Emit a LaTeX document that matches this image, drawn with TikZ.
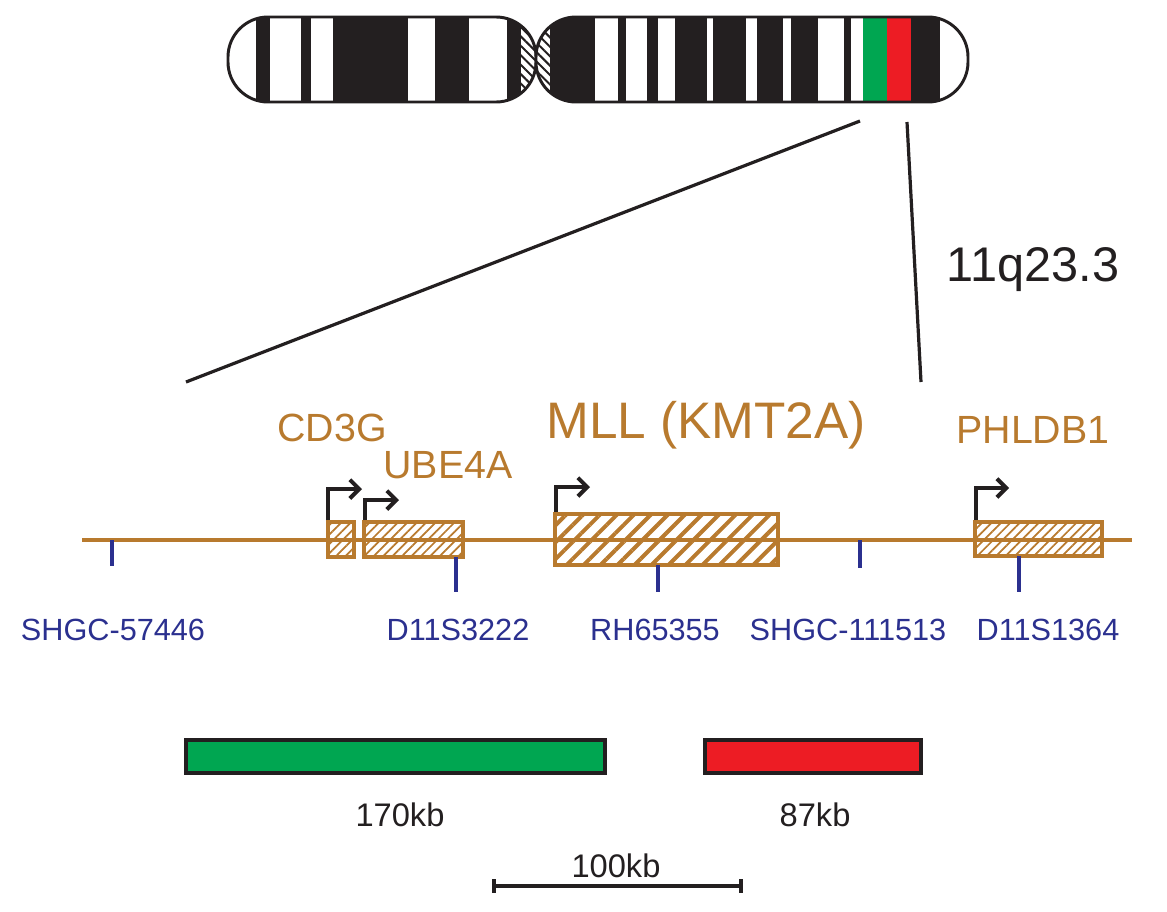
\documentclass[tikz,border=0pt]{standalone}
\usepackage{fontspec}
\setmainfont{Liberation Sans}
\usetikzlibrary{patterns.meta,arrows.meta}
\definecolor{gene}{RGB}{184,122,46}
\definecolor{mark}{RGB}{43,48,143}
\definecolor{band}{RGB}{35,31,32}
\definecolor{grn}{RGB}{0,166,81}
\definecolor{rd}{RGB}{237,28,36}
\tikzset{
  gene box/.style={draw=gene,line width=2.5pt,fill=white,pattern={Lines[angle=45,distance=5pt,line width=1.3pt]},pattern color=gene},
  big box/.style={gene box,pattern={Lines[angle=45,distance=9pt,line width=3pt]}},
  tss/.style={draw=band,line width=3pt,-{Straight Barb[length=7pt,width=14pt]}},
  marker/.style={draw=mark,line width=2.4pt},
  mark label/.style={text=mark,font=\fontsize{23}{23}\selectfont},
  gene label/.style={text=gene,font=\fontsize{29.5}{29.5}\selectfont},
  kb label/.style={text=band,font=\fontsize{24.5}{24.5}\selectfont}
}
\begin{document}
\begin{tikzpicture}[x=0.75pt,y=-0.75pt]
\useasboundingbox (0,0) rectangle (1167,911);

% chromosome
\begin{scope}
  \clip[rounded corners=30] (228,17) rectangle (536,102);
  \fill[white] (228,17) rectangle (536,102);
  \foreach \a/\b in {256/270,301/311,333/408,435/469,507/536}
    \fill[band] (\a,17) rectangle (\b,102);
  \fill[white] (521,17) rectangle (536,102);
  \path[pattern={Lines[angle=-45,distance=5pt,line width=1.5pt]},pattern color=band] (521,17) rectangle (536,102);
\end{scope}
\draw[band,line width=2.2pt,rounded corners=30] (228,17) rectangle (536,102);
\begin{scope}
  \clip[rounded corners=30] (536,17) rectangle (968,102);
  \fill[band] (536,17) rectangle (968,102);
  \foreach \a/\b in {595/618,626/647,658/675,707/713,746/757,783/791,818/844,851/863,940/968}
    \fill[white] (\a,17) rectangle (\b,102);
  \fill[white] (536,17) rectangle (550,102);
  \path[pattern={Lines[angle=-45,distance=5pt,line width=1.5pt]},pattern color=band] (536,17) rectangle (550,102);
  \fill[grn] (863,17) rectangle (887,102);
  \fill[rd] (887,17) rectangle (911,102);
\end{scope}
\draw[band,line width=2.2pt,rounded corners=30] (536,17) rectangle (968,102);

% zoom lines
\coordinate (zl1) at (860,121);
\coordinate (zl2) at (186,382);
\coordinate (zr1) at (907,122);
\coordinate (zr2) at (921,382);
\draw[band,line width=2.4pt] (zl1) -- (zl2);
\draw[band,line width=2.4pt] (zr1) -- (zr2);
\node[text=band,font=\fontsize{36.5}{36.5}\selectfont] (band) at (1033,270) {11q23.3};

% genes
\coordinate (gs) at (82,540);
\coordinate (ge) at (1132,540);
\draw[gene,line width=2.5pt] (gs) -- (ge);
\path[gene box] (328,522) rectangle (354,557);
\path[gene box] (364,522) rectangle (463,557);
\path[big box] (555,514) rectangle (778,565);
\path[gene box] (975,522) rectangle (1102,556);

\draw[tss] (328,520) |- (362,489);
\draw[tss] (365,520) |- (399,500);
\draw[tss] (556,512) |- (590,487);
\draw[tss] (976,520) |- (1009,488);

\node[gene label] (cd3g) at (332,428) {CD3G};
\node[gene label] (ube4a) at (448,465) {UBE4A};
\node[gene label,font=\fontsize{38.5}{38.5}\selectfont] (mll) at (706,425) {MLL (KMT2A)};
\node[gene label] (phldb1) at (1033,430) {PHLDB1};

% markers
\foreach \x/\ya/\yb/\lx/\txt in {112/540/566/113/SHGC-57446,456/557/592/458/D11S3222,658/565/592/655/RH65355,860/540/568/848/SHGC-111513,1019/556/592/1048/D11S1364}
{
  \draw[marker] (\x,\ya) -- (\x,\yb);
  \node[mark label] at (\lx,630) {\txt};
}

% deleted regions
\draw[band,line width=2.5pt,fill=grn] (186,740) rectangle (605,773);
\draw[band,line width=2.5pt,fill=rd] (705,740) rectangle (921,773);
\node[kb label] (g170) at (400,815) {170kb};
\node[kb label] (r87) at (815,815) {87kb};

% scale bar
\coordinate (sb1) at (494,886);
\coordinate (sb2) at (741,886);
\draw[band,line width=2.4pt] (sb1) -- (sb2);
\draw[band,line width=2.4pt] (494,879) -- (494,893) (741,879) -- (741,893);
\node[kb label] (scale) at (616,866) {100kb};
\end{tikzpicture}
\end{document}
